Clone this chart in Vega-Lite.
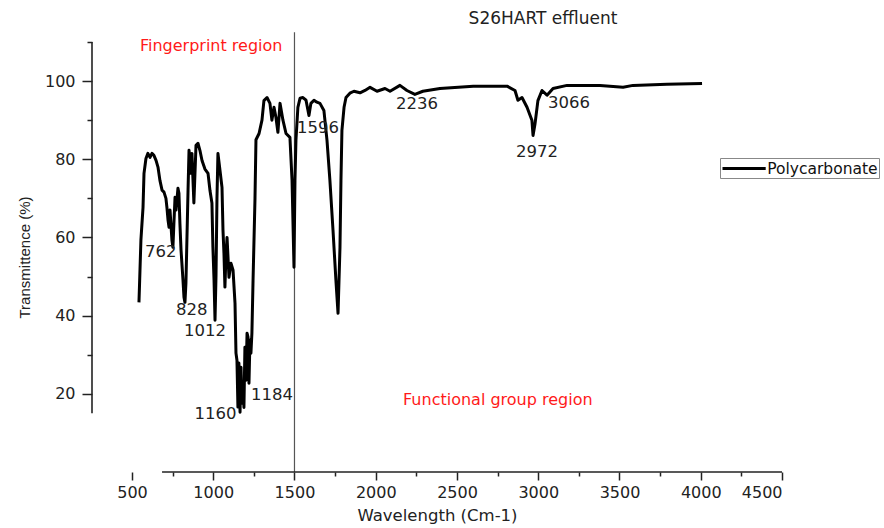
{
  "$schema": "https://vega.github.io/schema/vega-lite/v6.json",
  "width": 690,
  "height": 430,
  "autosize": {"type": "none"},
  "padding": {"left": 92, "top": 42, "right": 102, "bottom": 56},
  "background": "white",
  "title": {
    "text": "S26HART effluent",
    "font": "DejaVu Sans",
    "fontSize": 17,
    "fontWeight": "normal",
    "color": "#222",
    "anchor": "middle",
    "dx": 106,
    "offset": 4
  },
  "config": {
    "view": {"stroke": null},
    "text": {"font": "DejaVu Sans"}
  },
  "datasets": {
    "spectrum": [
      {"wn": 543, "T": 43.4}, {"wn": 546, "T": 47.3}, {"wn": 555, "T": 59.3}, {"wn": 568, "T": 67.7},
      {"wn": 574, "T": 76.4}, {"wn": 586, "T": 80.2}, {"wn": 598, "T": 81.5}, {"wn": 611, "T": 80.5},
      {"wn": 623, "T": 81.5}, {"wn": 635, "T": 81.0}, {"wn": 648, "T": 79.7}, {"wn": 660, "T": 78.0},
      {"wn": 672, "T": 74.6}, {"wn": 685, "T": 72.1}, {"wn": 697, "T": 71.6}, {"wn": 709, "T": 70.0},
      {"wn": 715, "T": 67.7}, {"wn": 722, "T": 64.4}, {"wn": 728, "T": 62.6}, {"wn": 734, "T": 67.0},
      {"wn": 746, "T": 59.3}, {"wn": 752, "T": 57.5}, {"wn": 758, "T": 63.6}, {"wn": 765, "T": 70.3},
      {"wn": 771, "T": 67.0}, {"wn": 783, "T": 72.6}, {"wn": 789, "T": 71.3}, {"wn": 795, "T": 63.6},
      {"wn": 802, "T": 56.7}, {"wn": 814, "T": 49.0}, {"wn": 820, "T": 44.7}, {"wn": 826, "T": 43.4},
      {"wn": 832, "T": 48.3}, {"wn": 838, "T": 59.3}, {"wn": 845, "T": 72.1}, {"wn": 851, "T": 82.3},
      {"wn": 857, "T": 79.7}, {"wn": 863, "T": 76.4}, {"wn": 869, "T": 81.5}, {"wn": 881, "T": 68.8},
      {"wn": 894, "T": 83.6}, {"wn": 906, "T": 84.1}, {"wn": 918, "T": 82.3}, {"wn": 931, "T": 79.7},
      {"wn": 949, "T": 77.5}, {"wn": 968, "T": 76.4}, {"wn": 980, "T": 72.0}, {"wn": 992, "T": 68.8},
      {"wn": 998, "T": 57.5}, {"wn": 1005, "T": 49.0}, {"wn": 1011, "T": 38.8}, {"wn": 1017, "T": 50.0},
      {"wn": 1023, "T": 70.0}, {"wn": 1029, "T": 81.5}, {"wn": 1042, "T": 77.0}, {"wn": 1054, "T": 72.8},
      {"wn": 1060, "T": 61.9}, {"wn": 1066, "T": 56.0}, {"wn": 1072, "T": 47.3}, {"wn": 1078, "T": 55.0},
      {"wn": 1085, "T": 60.0}, {"wn": 1097, "T": 49.8}, {"wn": 1109, "T": 53.4}, {"wn": 1122, "T": 51.6},
      {"wn": 1134, "T": 43.2}, {"wn": 1140, "T": 30.4}, {"wn": 1146, "T": 28.6}, {"wn": 1152, "T": 16.6},
      {"wn": 1158, "T": 27.9}, {"wn": 1165, "T": 15.3}, {"wn": 1171, "T": 26.8}, {"wn": 1177, "T": 17.6},
      {"wn": 1183, "T": 21.7}, {"wn": 1189, "T": 16.5}, {"wn": 1195, "T": 31.9}, {"wn": 1202, "T": 23.5},
      {"wn": 1208, "T": 35.5}, {"wn": 1214, "T": 34.5}, {"wn": 1220, "T": 22.7}, {"wn": 1226, "T": 33.7},
      {"wn": 1232, "T": 30.4}, {"wn": 1238, "T": 35.5}, {"wn": 1245, "T": 49.0}, {"wn": 1257, "T": 70.0},
      {"wn": 1263, "T": 85.0}, {"wn": 1282, "T": 86.6}, {"wn": 1300, "T": 90.0}, {"wn": 1312, "T": 95.0},
      {"wn": 1331, "T": 95.8}, {"wn": 1349, "T": 94.3}, {"wn": 1361, "T": 90.0}, {"wn": 1374, "T": 93.3},
      {"wn": 1386, "T": 90.7}, {"wn": 1398, "T": 86.9}, {"wn": 1411, "T": 94.3}, {"wn": 1429, "T": 90.0},
      {"wn": 1448, "T": 86.6}, {"wn": 1472, "T": 85.6}, {"wn": 1485, "T": 74.6}, {"wn": 1497, "T": 52.4},
      {"wn": 1503, "T": 74.6}, {"wn": 1509, "T": 84.9}, {"wn": 1521, "T": 93.3}, {"wn": 1534, "T": 95.6},
      {"wn": 1552, "T": 95.8}, {"wn": 1571, "T": 95.1}, {"wn": 1589, "T": 91.2}, {"wn": 1601, "T": 94.3},
      {"wn": 1620, "T": 95.1}, {"wn": 1638, "T": 94.6}, {"wn": 1657, "T": 94.3}, {"wn": 1681, "T": 92.5},
      {"wn": 1700, "T": 84.9}, {"wn": 1718, "T": 74.6}, {"wn": 1737, "T": 61.9}, {"wn": 1755, "T": 49.0},
      {"wn": 1768, "T": 40.6}, {"wn": 1780, "T": 57.5}, {"wn": 1786, "T": 74.6}, {"wn": 1792, "T": 87.4},
      {"wn": 1805, "T": 93.3}, {"wn": 1817, "T": 95.8}, {"wn": 1841, "T": 96.9}, {"wn": 1866, "T": 97.4},
      {"wn": 1903, "T": 97.0}, {"wn": 1934, "T": 97.6}, {"wn": 1965, "T": 98.4}, {"wn": 2008, "T": 97.4},
      {"wn": 2057, "T": 98.1}, {"wn": 2088, "T": 97.4}, {"wn": 2149, "T": 98.9}, {"wn": 2192, "T": 97.6},
      {"wn": 2241, "T": 96.6}, {"wn": 2290, "T": 97.4}, {"wn": 2395, "T": 98.1}, {"wn": 2600, "T": 98.7},
      {"wn": 2808, "T": 98.7}, {"wn": 2857, "T": 97.6}, {"wn": 2875, "T": 95.1}, {"wn": 2900, "T": 95.8},
      {"wn": 2931, "T": 93.3}, {"wn": 2961, "T": 90.0}, {"wn": 2968, "T": 86.1}, {"wn": 2980, "T": 89.0},
      {"wn": 2998, "T": 95.0}, {"wn": 3023, "T": 97.6}, {"wn": 3054, "T": 96.4}, {"wn": 3091, "T": 98.1},
      {"wn": 3177, "T": 98.9}, {"wn": 3380, "T": 98.9}, {"wn": 3522, "T": 98.4}, {"wn": 3583, "T": 98.9},
      {"wn": 3792, "T": 99.2}, {"wn": 4008, "T": 99.4}
    ],
    "peaks": [
      {"label": "762", "wn": 580, "T": 56.2},
      {"label": "828", "wn": 771, "T": 41.4},
      {"label": "1012", "wn": 820, "T": 36.0},
      {"label": "1160", "wn": 885, "T": 14.8},
      {"label": "1184", "wn": 1232, "T": 19.7},
      {"label": "1596", "wn": 1516, "T": 87.9},
      {"label": "2236", "wn": 2125, "T": 94.1},
      {"label": "2972", "wn": 2863, "T": 81.8},
      {"label": "3066", "wn": 3060, "T": 94.3}
    ],
    "regions": [
      {"label": "Fingerprint region", "wn": 549, "T": 108.9},
      {"label": "Functional group region", "wn": 2168, "T": 18.4}
    ],
    "frame": [
      {"part": "divider", "x": 1500, "x2": 1500, "y": 0, "y2": 112.5},
      {"part": "yaxis", "x": 254, "x2": 254, "y": 15, "y2": 110},
      {"part": "xaxis", "x": 685, "x2": 4500, "y": 0, "y2": 0}
    ]
  },
  "layer": [
    {
      "data": {"name": "frame"},
      "mark": {"type": "rule"},
      "encoding": {
        "x": {"field": "x", "type": "quantitative"},
        "x2": {"field": "x2"},
        "y": {"field": "y", "type": "quantitative"},
        "y2": {"field": "y2"},
        "color": {
          "condition": {"test": "datum.part === 'divider'", "value": "#555"},
          "value": "#222"
        },
        "strokeWidth": {
          "condition": {"test": "datum.part === 'divider'", "value": 1.2},
          "value": 1.6
        }
      }
    },
    {
      "data": {"name": "spectrum"},
      "mark": {"type": "line", "strokeWidth": 3, "strokeJoin": "round"},
      "encoding": {
        "x": {
          "field": "wn",
          "type": "quantitative",
          "scale": {"domain": [254, 4500], "nice": false, "zero": false},
          "axis": {
            "title": "Wavelength (Cm-1)",
            "titleFont": "DejaVu Sans",
            "titleFontSize": 16.5,
            "titleFontWeight": "normal",
            "titleColor": "#222",
            "titlePadding": 7,
            "values": [500, 750, 1000, 1250, 1500, 1750, 2000, 2250, 2500, 2750, 3000, 3250, 3500, 3750, 4000, 4250, 4500],
            "labelExpr": "datum.value % 500 === 0 ? datum.label : ''",
            "format": "d",
            "labelFont": "DejaVu Sans",
            "labelFontSize": 16,
            "labelColor": "#222",
            "labelPadding": 4,
            "tickSize": {"condition": {"test": "datum.value % 500 === 0", "value": 8}, "value": 4},
            "tickColor": "#222",
            "tickWidth": 1.5,
            "domain": false,
            "grid": false
          }
        },
        "y": {
          "field": "T",
          "type": "quantitative",
          "scale": {"domain": [0, 110], "nice": false},
          "axis": {
            "title": "Transmittence (%)",
            "titleFont": "Liberation Sans",
            "titleFontSize": 15,
            "titleFontWeight": "normal",
            "titleColor": "#222",
            "titlePadding": 12,
            "values": [20, 30, 40, 50, 60, 70, 80, 90, 100, 110],
            "labelExpr": "datum.value % 20 === 0 ? datum.label : ''",
            "labelFont": "DejaVu Sans",
            "labelFontSize": 16,
            "labelColor": "#222",
            "labelPadding": 7,
            "tickSize": {"condition": {"test": "datum.value % 20 === 0", "value": 10}, "value": 5},
            "tickColor": "#222",
            "tickWidth": 1.5,
            "domain": false,
            "grid": false
          }
        },
        "color": {
          "datum": "Polycarbonate",
          "type": "nominal",
          "scale": {"range": ["black"]},
          "legend": {
            "title": null,
            "orient": "none",
            "legendX": 628,
            "legendY": 116,
            "symbolType": "M-2.7,0H2.7",
            "symbolSize": 256,
            "symbolStrokeWidth": 3,
            "symbolOffset": 13.6,
            "labelFont": "DejaVu Sans",
            "labelFontSize": 15.5,
            "labelColor": "#111",
            "labelOffset": 13.6,
            "padding": 1,
            "strokeColor": "#888",
            "fillColor": "white"
          }
        }
      }
    },
    {
      "data": {"name": "peaks"},
      "mark": {"type": "text", "align": "left", "baseline": "middle", "fontSize": 16.5, "color": "#222"},
      "encoding": {
        "x": {"field": "wn", "type": "quantitative"},
        "y": {"field": "T", "type": "quantitative"},
        "text": {"field": "label"}
      }
    },
    {
      "data": {"name": "regions"},
      "mark": {"type": "text", "align": "left", "baseline": "middle", "fontSize": 16, "color": "#ff1a1a"},
      "encoding": {
        "x": {"field": "wn", "type": "quantitative"},
        "y": {"field": "T", "type": "quantitative"},
        "text": {"field": "label"}
      }
    }
  ]
}
